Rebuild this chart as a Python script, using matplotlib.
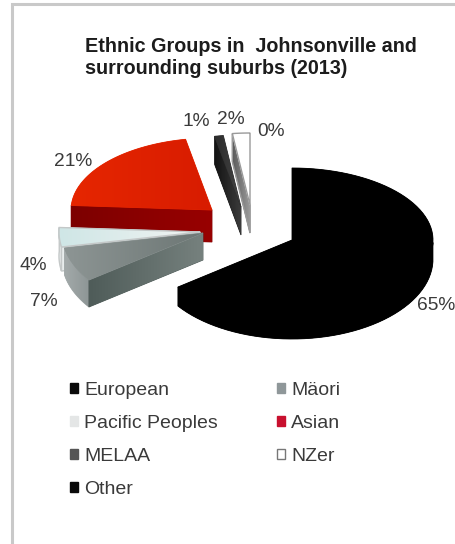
import numpy as np
import matplotlib
matplotlib.use("Agg")
import matplotlib.pyplot as plt
from matplotlib.colors import LinearSegmentedColormap
from matplotlib.patches import Patch, Polygon, Rectangle

plt.rcParams["font.family"] = ["Liberation Sans", "DejaVu Sans"]

groups = ["European", "Mäori", "Pacific Peoples", "Asian", "MELAA", "NZer", "Other"]
shares = [65, 7, 4, 21, 1, 2, 0]

legend_colors = ["#0a0a0a", "#8f9799", "#e4e6e6", "#c8102e", "#555555", "#ffffff", "#0a0a0a"]
edge_colors = ["none", "none", "#c4c8c8", "none", "none", "#9a9a9a", "none"]
top_colors = [("#000000", "#000000"), ("#8d9594", "#6d7775"), ("#cfe6e6", "#f1f4f2"),
              ("#e62600", "#d81c00"), ("#2c2c2c", "#444444"), ("#ffffff", "#ffffff"),
              ("#000000", "#000000")]
side_colors = [("#000000", "#000000"), ("#4f5c59", "#76817e"), ("#e9eeee", "#cfd6d6"),
               ("#7d0000", "#980000"), ("#141414", "#3c3c3c"), ("#5a5a5a", "#9a9a9a"),
               ("#000000", "#000000")]
rim_colors = [("#000000", "#000000"), ("#a3aaaa", "#8e9696"), ("#f2f4f4", "#e4e8e8"),
              ("#7d0000", "#980000"), ("#141414", "#3c3c3c"), ("#5a5a5a", "#9a9a9a"),
              ("#000000", "#000000")]

# slice apex in figure pixels and extrusion depth
apex = {"European": (292, 240, 19), "Mäori": (203, 233, 27), "Pacific Peoples": (200, 232, 24),
        "Asian": (212, 210, 32), "MELAA": (241, 207, 28), "NZer": (250, 205, 28),
        "Other": (250, 205, 28)}
label_pos = {"European": (436, 306), "Mäori": (44, 302), "Pacific Peoples": (33, 266),
             "Asian": (73, 162), "MELAA": (196, 121), "NZer": (231, 119), "Other": (271, 132)}
paint_order = ["Asian", "MELAA", "NZer", "Pacific Peoples", "Mäori", "European"]

rx, ry_back, ry_front = 141, 72, 80


def rim(cx, cy, deg):
    # angles run clockwise from twelve o'clock; the near half is drawn a little larger
    rad = np.radians(deg)
    c = np.cos(rad)
    ry = np.where(c > 0, ry_back, ry_front)
    return np.column_stack([cx + rx * np.sin(rad), cy - ry * c])


def shaded(ax, verts, colors, zorder, edge="none"):
    # polygon filled with a horizontal gradient over a flat base, so no seams show
    verts = np.asarray(verts)
    base = Polygon(verts, closed=True, fc=colors[0], ec=colors[0], lw=0.6, zorder=zorder)
    ax.add_patch(base)
    cmap = LinearSegmentedColormap.from_list("face", colors)
    x0, x1 = verts[:, 0].min(), verts[:, 0].max()
    y0, y1 = verts[:, 1].min(), verts[:, 1].max()
    im = ax.imshow(np.linspace(0, 1, 64)[None, :], cmap=cmap, extent=(x0, x1, y1, y0),
                   aspect="auto", zorder=zorder, interpolation="bilinear")
    clip = Polygon(verts, closed=True, transform=ax.transData)
    im.set_clip_path(clip)
    if edge != "none":
        ax.add_patch(Polygon(verts, closed=True, fc="none", ec=edge, lw=1.0, zorder=zorder + 0.1))


fig = plt.figure(figsize=(4.55, 5.44), dpi=100)
ax = fig.add_axes([0, 0, 1, 1])
ax.set_axis_off()

# chart frame
ax.add_patch(Rectangle((11.5, 3.5), 460, 560, fc="white", ec="#c9c9c9", lw=2.2, zorder=0))

ax.text(85, 47, "Ethnic Groups in  Johnsonville and", fontsize=14.2, fontweight="bold",
        color="#1c1c1c", ha="left", va="center")
ax.text(85, 68, "surrounding suburbs (2013)", fontsize=14.2, fontweight="bold",
        color="#1c1c1c", ha="left", va="center")

cuts = np.cumsum([0] + shares) * 3.6
spans = {g: (cuts[i], cuts[i + 1]) for i, g in enumerate(groups)}

z = 1.0
for name in paint_order:
    i = groups.index(name)
    start, end = spans[name]
    cx, cy, depth = apex[name]
    angles = np.linspace(start, end, 80)
    arc = rim(cx, cy, angles)
    drop = np.array([0, depth])
    centre = np.array([cx, cy])
    # outer wall only where the rim faces the viewer
    front = arc[(angles > 90) & (angles < 275)]
    if len(front) > 1:
        shaded(ax, np.vstack([front, (front + drop)[::-1]]), rim_colors[i], z, edge_colors[i])
    z += 0.2
    # cut faces are seen only when the slice's top lies above them on screen
    if 180 < start < 360:
        shaded(ax, [centre, arc[0], arc[0] + drop, centre + drop], side_colors[i], z, edge_colors[i])
    if 0 < end < 180:
        shaded(ax, [centre, arc[-1], arc[-1] + drop, centre + drop], side_colors[i], z, edge_colors[i])
    z += 0.2
    shaded(ax, np.vstack([centre, arc]), top_colors[i], z, edge_colors[i])
    z += 0.2

for name, share in zip(groups, shares):
    x, y = label_pos[name]
    ax.text(x, y, f"{share}%", fontsize=13.8, color="#3a3a3a", ha="center", va="center", zorder=20)

ax.set_xlim(0, 455)
ax.set_ylim(544, 0)

# columns fill first, so the handles go in as left column then right column
column_order = [0, 2, 4, 6, 1, 3, 5]
handles = [Patch(fc=legend_colors[i], ec="#777777" if groups[i] == "NZer" else legend_colors[i],
                 lw=1.0, label=groups[i]) for i in column_order]
ax.legend(handles=handles, ncols=2, loc="upper left", bbox_to_anchor=(70, 382),
          bbox_transform=ax.transData, frameon=False, fontsize=14, labelcolor="#3a3a3a",
          handlelength=0.42, handleheight=0.42, handletextpad=0.3, labelspacing=0.825,
          columnspacing=3.05, borderpad=0, borderaxespad=0)

fig.savefig("out.png", dpi=100)
